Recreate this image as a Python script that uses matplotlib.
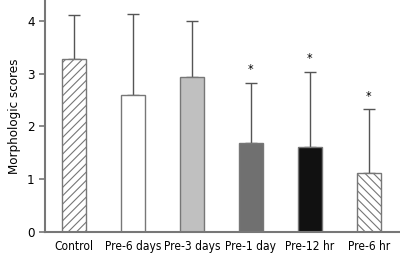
import numpy as np
import matplotlib.pyplot as plt

plt.rcParams['font.family'] = ['DejaVu Sans']
plt.rcParams['font.stretch'] = 'condensed'
plt.rcParams['hatch.linewidth'] = 0.8

groups = ['Control', 'Pre-6 days', 'Pre-3 days', 'Pre-1 day', 'Pre-12 hr', 'Pre-6 hr']
scores = [3.28, 2.60, 2.94, 1.69, 1.61, 1.11]
sd = [0.84, 1.53, 1.06, 1.14, 1.43, 1.22]
marks = ['', '', '', '*', '*', '*']

fills = ['white', 'white', '#c0c0c0', '#707070', '#111111', 'white']
hatches = ['////', None, None, None, None, '\\\\\\\\']
edge = '#555555'

fig = plt.figure(figsize=(4, 2.54), dpi=100)
ax = fig.add_axes([0.1125, 0.087, 0.8875, 0.913])

x = np.arange(len(groups))
for i in range(len(groups)):
    ax.bar(x[i], scores[i], width=0.4, color=fills[i], edgecolor='#777777',
           hatch=hatches[i], linewidth=1.0, zorder=2)
    ax.errorbar(x[i], scores[i], yerr=[[0], [sd[i]]], fmt='none',
                ecolor=edge, elinewidth=1.0, capsize=4, capthick=1.0, zorder=1)
    if marks[i]:
        ax.text(x[i], scores[i] + sd[i] + 0.12, marks[i], ha='center',
                va='bottom', fontsize=9)

ax.set_xlim(-0.49, 5.53)
ax.set_ylim(0, 4.4)
ax.set_yticks([0, 1, 2, 3, 4])
ax.set_xticks(x)
ax.set_xticklabels(groups, fontsize=8.6)
ax.tick_params(axis='y', labelsize=9.5, length=4, color='#777777', width=1.2)
ax.tick_params(axis='x', length=0, pad=6)
ax.set_ylabel('Morphologic scores', fontsize=9.5)
for s in ['top', 'right']:
    ax.spines[s].set_visible(False)
for s in ['left', 'bottom']:
    ax.spines[s].set_color('#777777')
    ax.spines[s].set_linewidth(1.5)

fig.savefig('out.png', dpi=100)
